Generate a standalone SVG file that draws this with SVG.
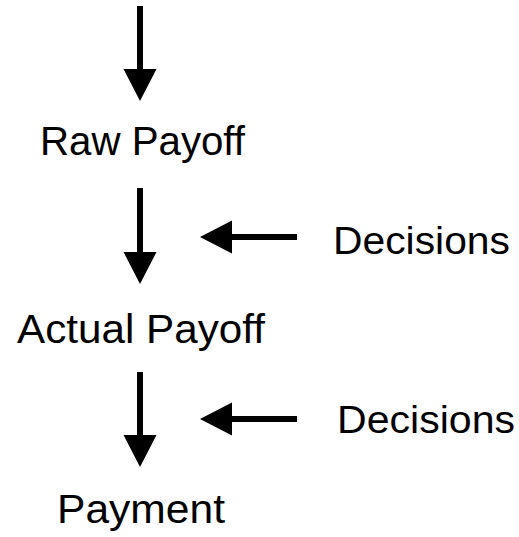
<svg xmlns="http://www.w3.org/2000/svg" width="519" height="537" viewBox="0 0 519 537">
<style>
.lbl{font-family:"Liberation Sans","DejaVu Sans",sans-serif;fill:#000}
.ln{stroke:#000;stroke-width:6;fill:none}
.hd{fill:#000}
</style>
<rect width="519" height="537" fill="#fff"/>
<g id="connectors">
<line class="ln" x1="140" y1="6" x2="140" y2="72"/>
<polygon class="hd" points="123.5,69 156.5,69 140,101"/>
<line class="ln" x1="140" y1="188" x2="140" y2="255"/>
<polygon class="hd" points="123.5,252 156.5,252 140,284"/>
<line class="ln" x1="140" y1="372" x2="140" y2="438"/>
<polygon class="hd" points="123.5,435 156.5,435 140,467"/>
<line class="ln" x1="229" y1="237" x2="297" y2="237"/>
<polygon class="hd" points="200,237 232,220.5 232,253.5"/>
<line class="ln" x1="229" y1="419" x2="297" y2="419"/>
<polygon class="hd" points="200,419 232,402.5 232,435.5"/>
</g>
<g id="raw-payoff"><text class="lbl" x="40" y="155" font-size="41" textLength="205" lengthAdjust="spacingAndGlyphs">Raw Payoff</text></g>
<g id="decisions-1"><text class="lbl" x="333" y="254" font-size="38" textLength="177" lengthAdjust="spacingAndGlyphs">Decisions</text></g>
<g id="actual-payoff"><text class="lbl" x="17" y="343" font-size="41" textLength="248" lengthAdjust="spacingAndGlyphs">Actual Payoff</text></g>
<g id="decisions-2"><text class="lbl" x="337" y="433" font-size="38" textLength="178" lengthAdjust="spacingAndGlyphs">Decisions</text></g>
<g id="payment"><text class="lbl" x="57" y="523" font-size="41" textLength="168" lengthAdjust="spacingAndGlyphs">Payment</text></g>
</svg>
